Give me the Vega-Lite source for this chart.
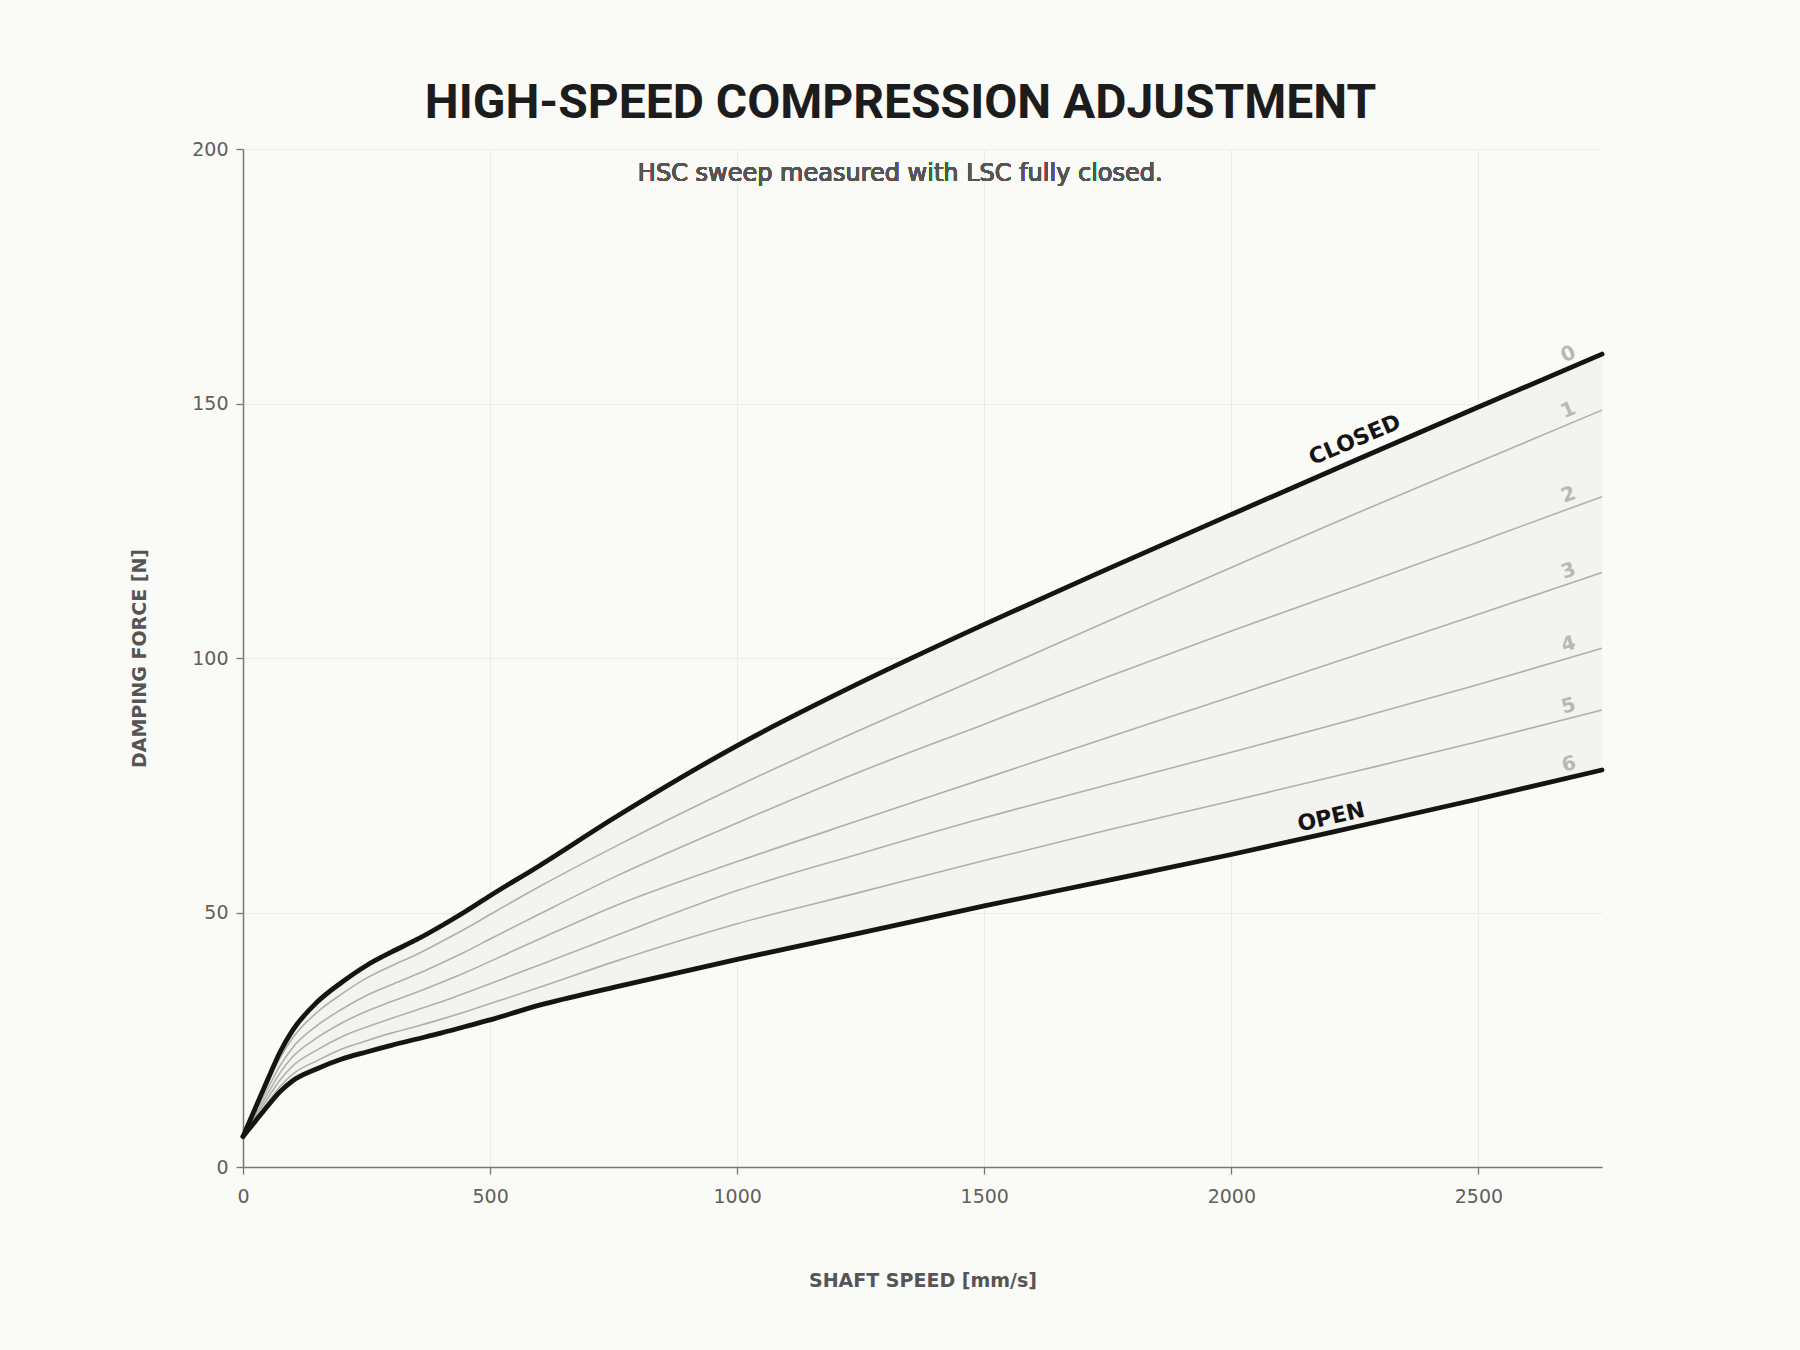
{
  "$schema": "https://vega.github.io/schema/vega-lite/v6.json",
  "autosize": "none",
  "width": 1359,
  "height": 1018,
  "padding": {"left": 243, "top": 149, "right": 198, "bottom": 183},
  "background": "#fafaf6",
  "title": {
    "text": "HIGH-SPEED COMPRESSION ADJUSTMENT",
    "frame": "group",
    "anchor": "middle",
    "dx": -22,
    "offset": 12
  },
  "data": {
    "values": [
      {"speed": 0, "0": 6, "1": 6, "2": 6, "3": 6, "4": 6, "5": 6, "6": 6},
      {"speed": 25, "0": 11.6, "1": 11.2, "2": 10.7, "3": 10.2, "4": 9.8, "5": 9.3, "6": 9.0},
      {"speed": 50, "0": 17.2, "1": 16.4, "2": 15.4, "3": 14.4, "4": 13.5, "5": 12.7, "6": 12.0},
      {"speed": 75, "0": 22.6, "1": 21.4, "2": 19.9, "3": 18.5, "4": 17.1, "5": 15.8, "6": 14.8},
      {"speed": 100, "0": 26.8, "1": 25.3, "2": 23.4, "3": 21.6, "4": 19.8, "5": 18.2, "6": 16.9},
      {"speed": 150, "0": 32.4, "1": 30.4, "2": 27.8, "3": 25.4, "4": 23.0, "5": 20.9, "6": 19.3},
      {"speed": 200, "0": 36.3, "1": 34.0, "2": 31.0, "3": 28.3, "4": 25.6, "5": 23.2, "6": 21.2},
      {"speed": 250, "0": 39.6, "1": 37.1, "2": 33.7, "3": 30.6, "4": 27.5, "5": 24.8, "6": 22.6},
      {"speed": 300, "0": 42.2, "1": 39.5, "2": 35.8, "3": 32.5, "4": 29.2, "5": 26.3, "6": 23.9},
      {"speed": 350, "0": 44.6, "1": 41.7, "2": 37.8, "3": 34.3, "4": 30.8, "5": 27.6, "6": 25.1},
      {"speed": 400, "0": 47.3, "1": 44.2, "2": 40.0, "3": 36.2, "4": 32.4, "5": 29.0, "6": 26.3},
      {"speed": 450, "0": 50.2, "1": 46.8, "2": 42.3, "3": 38.2, "4": 34.2, "5": 30.5, "6": 27.6},
      {"speed": 500, "0": 53.3, "1": 49.6, "2": 44.8, "3": 40.4, "4": 36.0, "5": 32.1, "6": 28.9},
      {"speed": 600, "0": 59.2, "1": 55.1, "2": 49.7, "3": 44.8, "4": 39.7, "5": 35.3, "6": 31.8},
      {"speed": 750, "0": 68.5, "1": 62.8, "2": 56.9, "3": 51.2, "4": 45.3, "5": 40.3, "6": 35.3},
      {"speed": 1000, "0": 82.8, "1": 74.8, "2": 67.6, "3": 60.0, "4": 54.3, "5": 47.8, "6": 40.8},
      {"speed": 1250, "0": 95.2, "1": 85.9, "2": 77.7, "3": 68.2, "4": 61.6, "5": 54.0, "6": 46.0},
      {"speed": 1500, "0": 106.6, "1": 96.5, "2": 87.0, "3": 76.3, "4": 68.6, "5": 60.2, "6": 51.3},
      {"speed": 1750, "0": 117.5, "1": 107.2, "2": 96.3, "3": 84.4, "4": 75.1, "5": 66.2, "6": 56.3},
      {"speed": 2000, "0": 128.2, "1": 117.8, "2": 105.3, "3": 92.4, "4": 81.5, "5": 71.9, "6": 61.4},
      {"speed": 2250, "0": 138.8, "1": 128.3, "2": 114.0, "3": 100.5, "4": 88.0, "5": 77.7, "6": 66.8},
      {"speed": 2500, "0": 149.3, "1": 138.5, "2": 122.8, "3": 108.6, "4": 94.8, "5": 83.6, "6": 72.3},
      {"speed": 2750, "0": 159.7, "1": 148.7, "2": 131.7, "3": 116.8, "4": 101.9, "5": 89.8, "6": 78.0}
    ]
  },
  "encoding": {
    "x": {
      "field": "speed",
      "type": "quantitative",
      "scale": {"domain": [0, 2750], "nice": false},
      "axis": {"values": [0, 500, 1000, 1500, 2000, 2500], "format": "d", "labelFlush": false, "title": "SHAFT SPEED [mm/s]"}
    }
  },
  "layer": [
    {
      "mark": {"type": "area", "color": "#f3f3ef", "interpolate": "monotone"},
      "encoding": {
        "y": {
          "field": "6",
          "type": "quantitative",
          "scale": {"domain": [0, 200], "nice": false},
          "axis": {"values": [0, 50, 100, 150, 200], "format": "d", "labelFlush": false, "title": "DAMPING FORCE [N]"}
        },
        "y2": {"field": "0"}
      }
    },
    {
      "transform": [{"fold": ["1", "2", "3", "4", "5"], "as": ["setting", "force"]}],
      "mark": {"type": "line", "color": "#afafad", "strokeWidth": 1.6, "interpolate": "monotone"},
      "encoding": {
        "y": {"field": "force", "type": "quantitative"},
        "detail": {"field": "setting"}
      }
    },
    {
      "transform": [{"fold": ["0", "6"], "as": ["setting", "force"]}],
      "mark": {"type": "line", "color": "#141414", "strokeWidth": 4.8, "interpolate": "monotone", "strokeCap": "round"},
      "encoding": {
        "y": {"field": "force", "type": "quantitative"},
        "detail": {"field": "setting"}
      }
    },
    {
      "transform": [
        {"fold": ["0", "1", "2", "3", "4", "5", "6"], "as": ["setting", "force"]},
        {"filter": "datum.speed == 2750"}
      ],
      "mark": {"type": "text", "font": "DejaVu Sans", "color": "#b8b8b6", "fontSize": 20, "fontWeight": "bold", "align": "center", "baseline": "middle", "dx": -31, "dy": -13},
      "encoding": {
        "y": {"field": "force", "type": "quantitative"},
        "text": {"field": "setting"},
        "angle": {
          "condition": [
            {"test": "datum.setting <= '1'", "value": 337},
            {"test": "datum.setting <= '3'", "value": 340},
            {"test": "datum.setting <= '5'", "value": 344}
          ],
          "value": 347
        }
      }
    },
    {
      "transform": [
        {"fold": ["0"], "as": ["setting", "force"]},
        {"filter": "datum.speed == 2250"}
      ],
      "mark": {"type": "text", "text": "CLOSED", "font": "DejaVu Sans", "color": "#141414", "fontSize": 22, "fontWeight": "bold", "angle": 337, "align": "center", "baseline": "middle", "dx": 8, "dy": -19},
      "encoding": {"y": {"field": "force", "type": "quantitative"}}
    },
    {
      "transform": [
        {"fold": ["6"], "as": ["setting", "force"]},
        {"filter": "datum.speed == 2250"}
      ],
      "mark": {"type": "text", "text": "OPEN", "font": "DejaVu Sans", "color": "#141414", "fontSize": 22, "fontWeight": "bold", "angle": 347, "align": "center", "baseline": "middle", "dx": -21, "dy": -15},
      "encoding": {"y": {"field": "force", "type": "quantitative"}}
    },
    {
      "mark": {"type": "text", "text": "HSC sweep measured with LSC fully closed.", "font": "DejaVu Sans", "color": "#555555", "fontSize": 24, "align": "center", "baseline": "middle"},
      "encoding": {
        "x": {"datum": 1330, "type": "quantitative"},
        "y": {"datum": 195, "type": "quantitative"}
      }
    }
  ],
  "config": {
    "font": "DejaVu Sans",
    "view": {"stroke": null},
    "title": {"font": "Roboto", "fontSize": 48, "fontWeight": "bold", "color": "#1c1c1c"},
    "axis": {
      "grid": true,
      "gridColor": "#edede8",
      "gridWidth": 1,
      "domainColor": "#777777",
      "domainWidth": 1.5,
      "tickColor": "#777777",
      "tickSize": 7,
      "tickWidth": 1.3,
      "labelFont": "DejaVu Sans",
      "labelFontSize": 19,
      "labelColor": "#5f5f5f",
      "titleFont": "DejaVu Sans",
      "titleFontSize": 19,
      "titleFontWeight": "bold",
      "titleColor": "#555555"
    },
    "axisX": {"labelPadding": 13, "titlePadding": 65},
    "axisY": {"labelPadding": 8, "titlePadding": 42}
  }
}
